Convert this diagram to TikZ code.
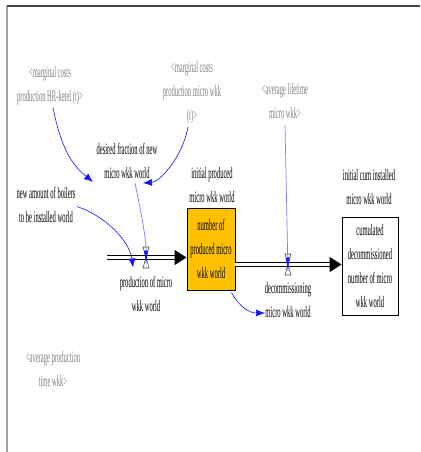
\documentclass[tikz,border=0pt]{standalone}
\usepackage{fontspec}
\setmainfont{Liberation Serif}[FakeStretch=0.41]
\usetikzlibrary{arrows.meta,calc}
\definecolor{stockyellow}{RGB}{255,192,0}
\definecolor{shadowgray}{RGB}{128,128,128}
\definecolor{conblue}{RGB}{20,20,255}
\definecolor{lightcon}{RGB}{125,125,255}
\definecolor{framedark}{RGB}{70,70,70}
\definecolor{frameleft}{RGB}{160,160,160}
\begin{document}
\begin{tikzpicture}[x=1pt,y=-1pt,
  every node/.style={font=\fontsize{16}{24}\selectfont, align=center, inner sep=0pt},
  lbl/.style={text=black},
  shadowvar/.style={text=shadowgray},
  stockbox/.style={draw=black, fill=stockyellow, line width=0.9pt, minimum width=48pt, minimum height=82pt},
  cumbox/.style={draw=black, fill=white, line width=0.9pt, minimum width=56pt, minimum height=98pt},
  pipe/.style={double distance=3.6pt, line width=0.9pt},
  pipetip/.style={-{Triangle[length=12pt,width=15pt]}, line width=0.9pt},
  conn/.style={draw=conblue, line width=0.6pt, -{Latex[length=9pt,width=7pt]}},
  lightconn/.style={draw=lightcon, line width=0.7pt, -{Latex[length=15pt,width=4pt,color=conblue]}},
  valveline/.style={draw=framedark, line width=0.6pt}
]
\useasboundingbox (0,0) rectangle (420,452);
% frame
\draw[frameleft, line width=1.5pt] (7,452) -- (7,6);
\draw[framedark, line width=1.5pt] (7,6) -- (420,6);

% nodes
\node[shadowvar] (hr) at (50,85.5) {<marginal costs\\production HR-ketel (t)>};
\node[shadowvar] (mcw) at (192,93) {<marginal costs\\production micro wkk\\(t)>};
\node[shadowvar] (alt) at (285,101) {<average lifetime\\micro wkk>};
\node[shadowvar] (apt) at (53,369.5) {<average production\\time wkk>};
\node[lbl] (dfn) at (127,161) {desired fraction of new\\micro wkk world};
\node[lbl] (nab) at (46,204.5) {new amount of boilers\\to be installed world};
\node[lbl] (ipm) at (212,185.5) {initial produced\\micro wkk world};
\node[lbl] (icm) at (369,187) {initial cum installed\\micro wkk world};
\node[stockbox] (stock) at (211,249) {number of\\produced micro\\wkk world};
\node[cumbox] (cum) at (370,266) {cumulated\\decommissioned\\number of micro\\wkk world};
\node[lbl] (prod) at (146,293.5) {production of micro\\wkk world};
\node[lbl] (dec) at (288,300) {decommissioning\\micro wkk world};

% valves and pipes
\coordinate (v1) at (146,257.5);
\coordinate (v2) at (288,264.5);
\coordinate (src) at (107,257.5);
\draw[pipe, shorten >=11pt] (src) -- (stock.west |- v1);
\draw[pipetip] ($(stock.west |- v1)+(-12,0)$) -- (stock.west |- v1);
\draw[pipe, shorten >=11pt] (stock.east |- v2) -- (cum.west |- v2);
\draw[pipetip] ($(cum.west |- v2)+(-12,0)$) -- (cum.west |- v2);
\draw[valveline, fill=white] (v1) ++(-3,-10.5) -- ++(6,0) -- ++(-6,21) -- ++(6,0) -- cycle;
\draw[valveline, fill=white] (v2) ++(-3,-10.5) -- ++(6,0) -- ++(-6,21) -- ++(6,0) -- cycle;

% connectors
\draw[conn] ($(hr.center)+(3,22)$) .. controls +(8,40) and +(-22,-18) .. ($(dfn.center)+(-34,21)$);
\draw[conn] ($(mcw.center)+(-4,34)$) .. controls +(-6,32) and +(16,-1) .. ($(dfn.center)+(16,22)$);
\draw[lightconn] ($(dfn.center)+(8,22)$) .. controls +(5,25) and +(0,-30) .. ($(v1)+(0,8)$);
\draw[conn] ($(nab.center)+(31,2)$) .. controls +(30,10) and +(-3,-25) .. ($(v1)+(-13,10)$);
\draw[lightconn] ($(alt.center)+(0,24)$) -- ($(v2)+(0,8)$);
\draw[conn] ($(stock.south east)+(-4,2)$) .. controls +(8,15) and +(-15,0) .. ($(dec.center)+(-23,13)$);
\end{tikzpicture}
\end{document}
